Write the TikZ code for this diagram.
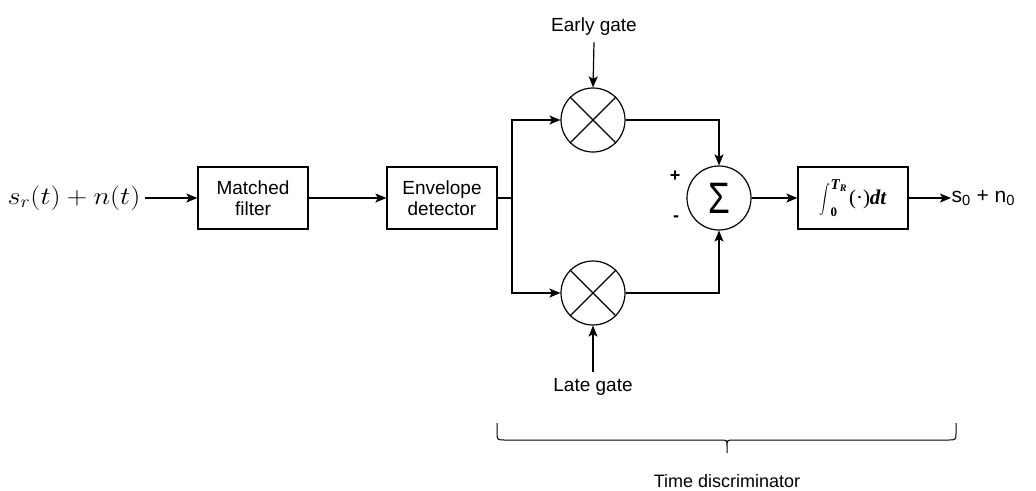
\documentclass[tikz,border=0pt]{standalone}
\usepackage{fontspec}
\setmainfont{Liberation Sans}
\newfontfamily\serifface{Liberation Serif}
\usetikzlibrary{arrows.meta}
\begin{document}
\begin{tikzpicture}[x=1pt,y=-1pt,
 line width=1.2pt,
 arr/.style={-{Stealth[length=11pt,width=9pt,inset=2.5pt]}},
 blk/.style={draw, minimum width=110pt, minimum height=62pt, align=center, font=\fontsize{19}{21}\selectfont, inner sep=0pt},
 mult/.style={draw, circle, minimum size=64pt, inner sep=0pt},
 lbl/.style={font=\fontsize{19}{21}\selectfont, inner sep=0pt}]
\useasboundingbox (0,0) rectangle (1036,490);
\node[inner sep=0pt, anchor=west, font=\fontsize{24}{26}\selectfont] (sin) at (7,198) {\scalebox{1.14}[1]{$s_r(t)+n(t)$}};
\node[blk] (mf) at (253,198) {Matched\\filter};
\node[blk] (env) at (442,198) {Envelope\\detector};
\node[mult] (m1) at (593,120) {};
\node[mult] (m2) at (593,293) {};
\draw (m1.45) -- (m1.225) (m1.135) -- (m1.315);
\draw (m2.45) -- (m2.225) (m2.135) -- (m2.315);
\node[mult, font=\fontsize{44}{46}\selectfont] (sum) at (719,198) {\scalebox{0.8}[1]{Σ}};
\node[draw, minimum width=110pt, minimum height=62pt, inner sep=0pt, font=\fontsize{21}{23}\selectfont] (integ) at (853,198)
  {$\mathop{\vcenter{\hbox{\scalebox{1.1}[1.45]{$\displaystyle\int$}}}}\nolimits_{\mbox{\fontsize{13}{13}\selectfont\serifface\bfseries 0}}^{\mbox{\fontsize{15}{15}\selectfont\serifface\bfseries\itshape T\raisebox{-2pt}{\fontsize{10}{10}\selectfont R}}}$\hspace{2pt}{\serifface(·)\bfseries\itshape dt}};
\node[inner sep=0pt, anchor=west, font=\fontsize{21}{24}\selectfont] (out) at (951,198) {s\textsubscript{0} + n\textsubscript{0}};
\node[lbl] (early) at (594,27) {Early gate};
\node[lbl] (late) at (593,387) {Late gate};
\node[lbl, font=\fontsize{18}{20}\bfseries] (plus) at (675,176) {+};
\node[lbl, font=\fontsize{18}{20}\bfseries] (minus) at (676,219) {-};
\node[lbl, font=\fontsize{18}{20}\selectfont, anchor=base] (td) at (727,487) {Time discriminator};
\coordinate (br) at (512,198);
\draw[arr] (sin.east) ++(4,0) -- (mf.west);
\draw[arr] (mf.east) -- (env.west);
\draw (env.east) -- (br);
\draw[arr] (br) |- (m1.west);
\draw[arr] (br) |- (m2.west);
\draw[arr] (early.south) ++(0,6) -- (m1.north);
\draw[arr] (late.north) ++(0,-6) -- (m2.south);
\draw[arr] (m1.east) -| (sum.north);
\draw[arr] (m2.east) -| (sum.south);
\draw[arr] (sum.east) -- (integ.west);
\draw[arr] (integ.east) -- (out.west);
% brace
\draw[line width=1pt] (497,423) -- (497,432) .. controls (497,440) .. (505,440) -- (720,440) .. controls (727,440) .. (727,446) -- (727,453)
  (727,446) .. controls (727,440) .. (734,440) -- (948,440) .. controls (956,440) .. (956,432) -- (956,423);
\end{tikzpicture}
\end{document}
